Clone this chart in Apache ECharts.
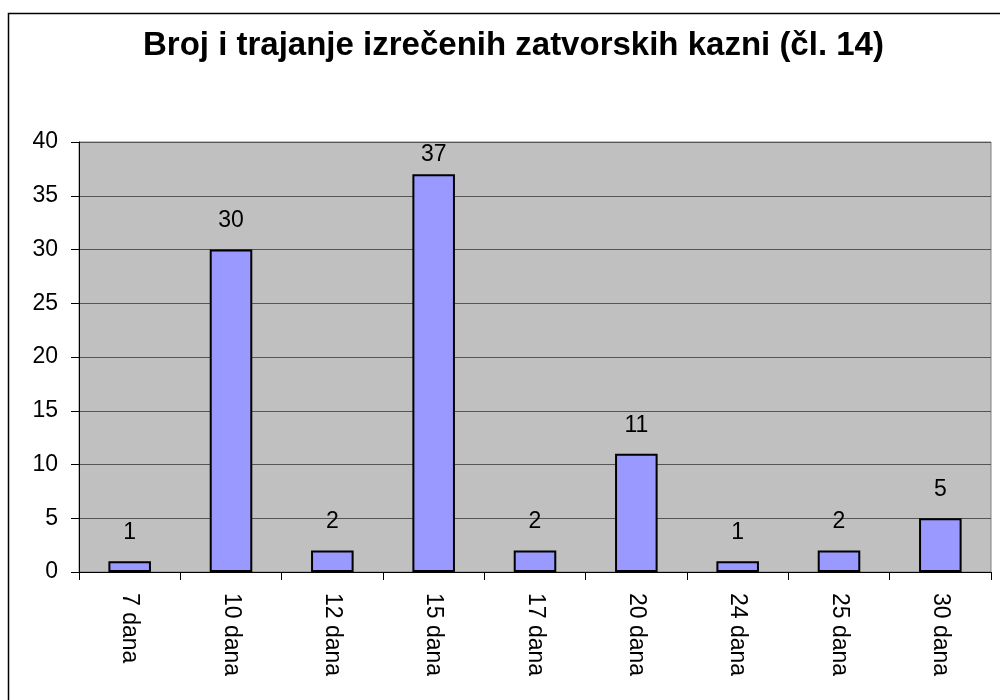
<!DOCTYPE html>
<html>
<head>
<meta charset="utf-8">
<script src="https://cdn.jsdelivr.net/npm/echarts@6/dist/echarts.min.js"></script>
<style>html,body{margin:0;padding:0;background:#fff;}#c{width:1000px;height:700px;}</style>
</head>
<body>
<div id="c"></div>
<script>
const categories = ['7 dana','10 dana','12 dana','15 dana','17 dana','20 dana','24 dana','25 dana','30 dana'];
const values = [1, 30, 2, 37, 2, 11, 1, 2, 5];
const titleText = 'Broj i trajanje izrečenih zatvorskih kazni (čl. 14)';

const FONT = 'Liberation Sans, Arial, sans-serif';
const maxVal = Math.max(...values);
// the tallest bar's label is squeezed toward the bar (kept inside the plot area)
const seriesData = values.map(v => v === maxVal ? {value: v, label: {distance: 8}} : v);

const chart = echarts.init(document.getElementById('c'), null, {renderer: 'canvas'});
chart.setOption({
  animation: false,
  backgroundColor: '#ffffff',
  textStyle: {fontFamily: FONT},
  graphic: [{
    type: 'rect', left: 6, top: 11, z: -1,
    shape: {width: 1000, height: 700},
    style: {fill: 'none', stroke: '#000', lineWidth: 1.5}
  }],
  title: {
    text: titleText, left: 138, top: 24,
    textStyle: {fontSize: 33, fontWeight: 'bold', color: '#000', fontFamily: FONT}
  },
  grid: {left: 79, right: 9, top: 142, bottom: 128, show: true, backgroundColor: '#c0c0c0', borderColor: '#808080', borderWidth: 1},
  xAxis: {
    type: 'category', data: categories,
    axisLine: {lineStyle: {color: '#000', width: 1}},
    axisTick: {show: true, length: 8, alignWithLabel: false, lineStyle: {color: '#000'}},
    axisLabel: {rotate: -90, margin: 21, fontSize: 23, color: '#000', fontFamily: FONT}
  },
  yAxis: {
    type: 'value', min: 0, max: 40, interval: 5,
    axisLine: {show: true, lineStyle: {color: '#000', width: 1}},
    axisTick: {show: true, length: 8, lineStyle: {color: '#000'}},
    axisLabel: {margin: 21, fontSize: 23, color: '#000', fontFamily: FONT},
    splitLine: {show: true, lineStyle: {color: '#555555', width: 1}}
  },
  series: [{
    type: 'bar', data: seriesData, barWidth: '42%',
    itemStyle: {color: '#9999ff', borderColor: '#000', borderWidth: 2},
    label: {show: true, position: 'top', distance: 17, fontSize: 23, color: '#000', fontFamily: FONT}
  }]
});
</script>
</body>
</html>
